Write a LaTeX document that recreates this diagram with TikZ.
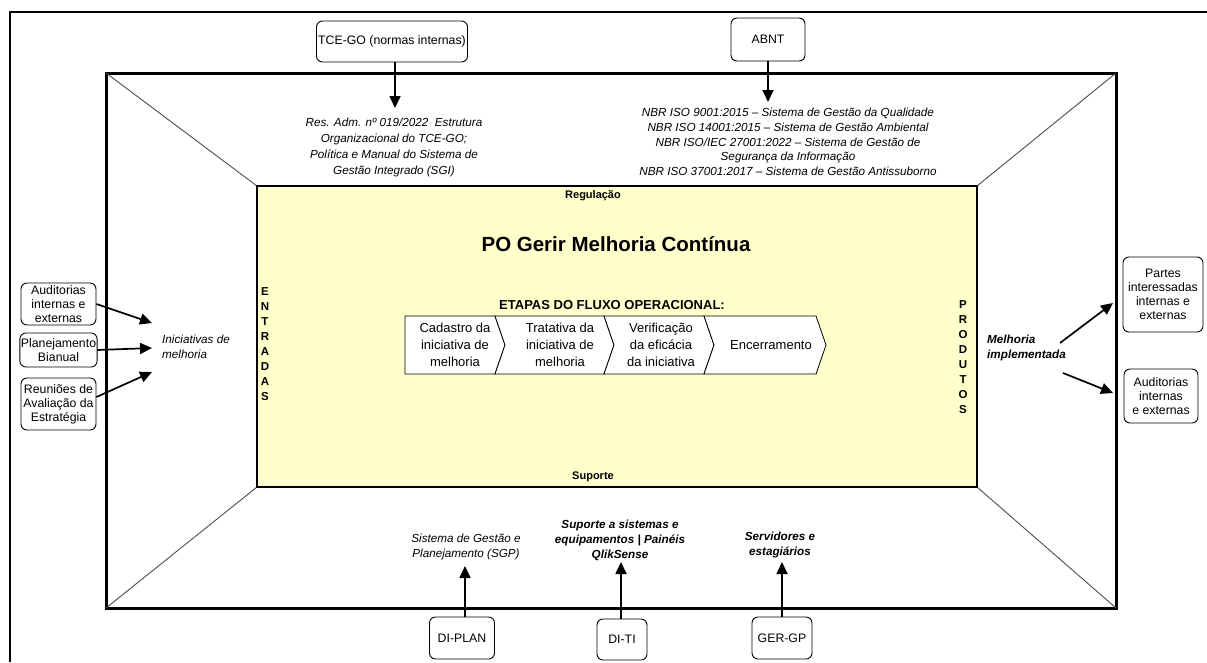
\documentclass[tikz,border=0pt]{standalone}
\usepackage{fontspec}
\setmainfont{Liberation Sans}
\usetikzlibrary{arrows.meta}
\definecolor{paleyellow}{HTML}{FFFFCC}
\newcommand\fsBox{\fontsize{12.3}{14}\selectfont}
\newcommand\fsIt{\fontsize{11.7}{15}\selectfont\itshape}
\newcommand\fsChev{\fontsize{13}{17}\selectfont}
\tikzset{
  boxnode/.style={draw, line width=0.9pt, rounded corners=6pt, align=center, font=\fsBox, inner sep=1pt},
  itxt/.style={align=center, font=\fsIt, inner sep=0pt},
  btxt/.style={align=center, font=\fsIt\bfseries, inner sep=0pt},
  arr/.style={line width=1.7pt, -{Triangle[length=12pt,width=11pt]}},
  diag/.style={line width=0.9pt, draw=black!70},
  chev/.style={draw, line width=0.8pt, fill=white},
  vlab/.style={align=center, font=\fontsize{11.5}{15}\selectfont\bfseries, inner sep=0pt},
}
\begin{document}
\begin{tikzpicture}[x=1pt,y=-1pt]
\useasboundingbox (0,0) rectangle (1207,662);
% outer frame
\draw[line width=2pt] (10,662) -- (10,12) -- (1207,12);
% middle frame and diagonals
\draw[line width=3pt] (106,73) rectangle (1116,608);
\draw[diag] (106,73) -- (257,186);
\draw[diag] (1116,73) -- (977,186);
\draw[diag] (106,608) -- (257,487);
\draw[diag] (1116,608) -- (977,487);
% inner yellow process box
\draw[line width=1.5pt, fill=paleyellow] (257,186) rectangle (977,487);

\node[font=\fontsize{11}{13}\selectfont\bfseries] (reg) at (593,196) {Regulação};
\node[font=\fontsize{11}{13}\selectfont\bfseries] (sup) at (593,477) {Suporte};
\node[font=\fontsize{20.5}{24}\selectfont\bfseries] (title) at (616,244) {PO Gerir Melhoria Contínua};
\node[font=\fontsize{13}{16}\selectfont\bfseries] (etapas) at (612,305) {ETAPAS DO FLUXO OPERACIONAL:};

% vertical labels
\node[vlab] (entradas) at (265,344) {E\\N\\T\\R\\A\\D\\A\\S};
\node[vlab] (produtos) at (963,357) {P\\R\\O\\D\\U\\T\\O\\S};

% chevrons
\draw[chev] (405,316) -- (495,316) -- (505,345) -- (495,374) -- (405,374) -- cycle;
\draw[chev] (495,316) -- (604,316) -- (614,345) -- (604,374) -- (495,374) -- (505,345) -- cycle;
\draw[chev] (604,316) -- (704,316) -- (714,345) -- (704,374) -- (604,374) -- (614,345) -- cycle;
\draw[chev] (704,316) -- (816,316) -- (826,345) -- (816,374) -- (704,374) -- (714,345) -- cycle;
\node[align=center, font=\fsChev, inner sep=0pt] (c1) at (455,345) {Cadastro da\\iniciativa de\\melhoria};
\node[align=center, font=\fsChev, inner sep=0pt] (c2) at (560,345) {Tratativa da\\iniciativa de\\melhoria};
\node[align=center, font=\fsChev, inner sep=0pt] (c3) at (661,345) {Verificação\\da eficácia\\da iniciativa};
\node[align=center, font=\fsChev, inner sep=0pt] (c4) at (771,345) {Encerramento};

% top
\node[boxnode, minimum width=151pt, minimum height=41pt] (tce) at (392,41.5) {TCE-GO (normas internas)};
\node[boxnode, minimum width=74pt, minimum height=43pt] (abnt) at (768,39.5) {ABNT};
\node[itxt, font=\fontsize{11.7}{16}\selectfont\itshape] (res) at (394,147) {Res. Adm. nº 019/2022~ Estrutura\\Organizacional do TCE-GO;\\Política e Manual do Sistema de\\Gestão Integrado (SGI)};
\node[itxt, font=\fontsize{11.7}{14.8}\selectfont\itshape] (nbr) at (788,142) {NBR ISO 9001:2015 – Sistema de Gestão da Qualidade\\NBR ISO 14001:2015 – Sistema de Gestão Ambiental\\NBR ISO/IEC 27001:2022 – Sistema de Gestão de\\Segurança da Informação\\NBR ISO 37001:2017 – Sistema de Gestão Antissuborno};
\coordinate (tceend) at (395,108);
\coordinate (abntend) at (768,102);
\draw[arr] (tce.south -| tceend) -- (tceend);
\draw[arr] (abnt.south) -- (abntend);

% left
\node[boxnode, minimum width=75pt, minimum height=42pt] (aud) at (58.5,304) {Auditorias\\internas e\\externas};
\node[boxnode, minimum width=77pt, minimum height=34pt] (plan) at (58.5,350) {Planejamento\\Bianual};
\node[boxnode, minimum width=75pt, minimum height=52pt] (reun) at (58.5,404) {Reuniões de\\Avaliação da\\Estratégia};
\node[itxt, anchor=west, align=left] (inic) at (162,347) {Iniciativas de\\melhoria};
\coordinate (in1) at (152,323);
\coordinate (in2) at (152,348);
\coordinate (in3) at (152,372);
\draw[arr] (aud.east) -- (in1);
\draw[arr] (plan.east) -- (in2);
\draw[arr] ([yshift=7pt]reun.east) -- (in3);

% right
\node[btxt, anchor=west, align=left] (melh) at (987,348) {Melhoria\\implementada};
\node[boxnode, minimum width=80pt, minimum height=75pt] (partes) at (1163,294.5) {Partes\\interessadas\\internas e\\externas};
\node[boxnode, minimum width=74pt, minimum height=54pt] (aud2) at (1161,396) {Auditorias\\internas\\e externas};
\coordinate (o1s) at (1060,343);
\coordinate (o1e) at (1113,303);
\coordinate (o2s) at (1063,373);
\coordinate (o2e) at (1113,393);
\draw[arr] (o1s) -- (o1e);
\draw[arr] (o2s) -- (o2e);

% bottom
\node[itxt] (sgp) at (466,547) {Sistema de Gestão e\\Planejamento (SGP)};
\node[btxt] (supti) at (620,540) {Suporte a sistemas e\\equipamentos | Painéis\\QlikSense};
\node[btxt] (serv) at (780,545) {Servidores e\\estagiários};
\node[boxnode, minimum width=65pt, minimum height=42pt] (diplan) at (462,638) {DI-PLAN};
\node[boxnode, minimum width=50pt, minimum height=41pt] (diti) at (622,639.5) {DI-TI};
\node[boxnode, minimum width=60pt, minimum height=42pt] (gergp) at (782,638) {GER-GP};
\coordinate (b1) at (465,566);
\coordinate (b2) at (621,562);
\coordinate (b3) at (782,562);
\draw[arr] (diplan.north -| b1) -- (b1);
\draw[arr] (diti.north -| b2) -- (b2);
\draw[arr] (gergp.north -| b3) -- (b3);
\end{tikzpicture}
\end{document}
